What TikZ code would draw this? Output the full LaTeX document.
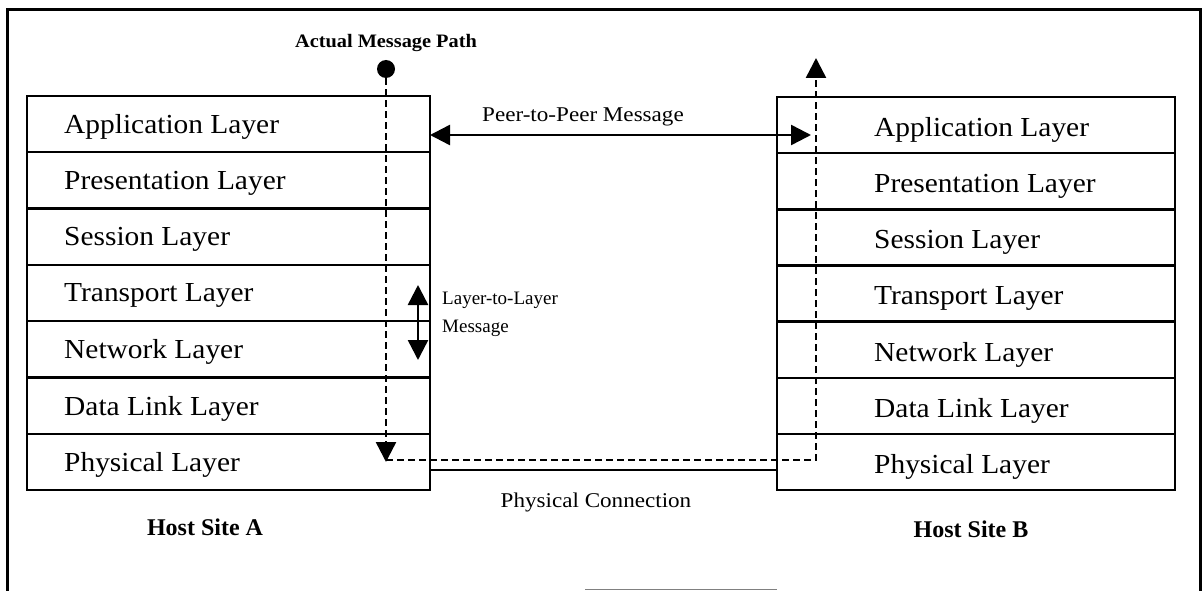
\documentclass[tikz,border=0pt]{standalone}
\usepackage{fontspec}
\setmainfont{Liberation Serif}
\newfontfamily\layerfont[FakeStretch=1.07]{Liberation Serif}
\newfontfamily\labelfont[FakeStretch=1.1]{Liberation Serif}
\newfontfamily\boldlabelfont[FakeStretch=1.07]{Liberation Serif}
\usetikzlibrary{arrows.meta}

\tikzset{
  layerbox/.style={draw, line width=2.4pt, minimum width=#1, minimum height=56.3pt,
    inner sep=0pt, outer sep=0pt, anchor=north west},
  layertext/.style={anchor=west, inner sep=0pt, font=\layerfont\fontsize{27.5}{30}\selectfont},
  small/.style={inner sep=0pt, font=\fontsize{19}{28}\selectfont},
  widesmall/.style={inner sep=0pt, font=\labelfont\fontsize{21}{24}\selectfont},
  smallbold/.style={inner sep=0pt, font=\boldlabelfont\fontsize{19}{22}\selectfont\bfseries},
  hostlabel/.style={inner sep=0pt, font=\fontsize{24}{26}\selectfont\bfseries},
  tip/.style={-{Triangle[length=20pt,width=20pt]}},
  twotip/.style={{Triangle[length=20pt,width=20pt]}-{Triangle[length=20pt,width=20pt]}},
  pathline/.style={line width=2.5pt, dash pattern=on 7pt off 4pt},
  wire/.style={line width=2.5pt},
}

\begin{document}
\begin{tikzpicture}[x=1pt, y=-1pt]
  \useasboundingbox (0,0) rectangle (1202,591);

  % outer frame (its lower edge runs below the page)
  \draw[line width=3pt] (7,591) -- (7,10) -- (1200,10) -- (1200,591);
  \draw[gray, line width=1.5pt] (585,589.5) -- (777,589.5);

  % protocol stacks of the two hosts
  \foreach \name [count=\i from 0] in {Application, Presentation, Session, Transport, Network, Data Link, Physical} {
    \node[layerbox=403pt] (a\i) at (27, 96+\i*56.3) {};
    \node[layertext] (ta\i) at (64, 96+\i*56.3+31) {\name\ Layer};
    \node[layerbox=398pt] (b\i) at (777, 97+\i*56.15) {};
    \node[layertext] (tb\i) at (874, 97+\i*56.15+33) {\name\ Layer};
  }

  % actual message path
  \node[smallbold] (pathlbl) at (386,43) {Actual Message Path};
  \node[circle, fill, minimum size=18pt, inner sep=0pt] (dot) at (386,69) {};
  \coordinate (downend) at (386,462);
  \coordinate (turn) at (386,460);
  \coordinate (cross) at (816,460);
  \coordinate (upend) at (816,58);
  \draw[pathline, tip] (dot.south) -- (downend);
  \draw[pathline, tip] (turn) -- (cross) -- (upend);

  % peer-to-peer message
  \coordinate (peerA) at (a0.east |- 0,135);
  \coordinate (peerB) at (811,135);
  \draw[wire, twotip] (peerA) -- (peerB);
  \node[widesmall] (peerlbl) at (583,117) {Peer-to-Peer Message};

  % layer-to-layer message
  \coordinate (llTop) at (418,285);
  \coordinate (llBot) at (418,360);
  \draw[wire, twotip] (llTop) -- (llBot);
  \node[small, anchor=west, align=left] (lllbl) at (442,314) {Layer-to-Layer\\Message};

  % physical connection
  \draw[wire] (a6.east |- 0,470) -- (b6.west |- 0,470);
  \node[widesmall] (physlbl) at (596,502) {Physical Connection};

  % host names
  \node[hostlabel] (hostA) at (205,527) {Host Site A};
  \node[hostlabel] (hostB) at (971,529) {Host Site B};
\end{tikzpicture}
\end{document}
